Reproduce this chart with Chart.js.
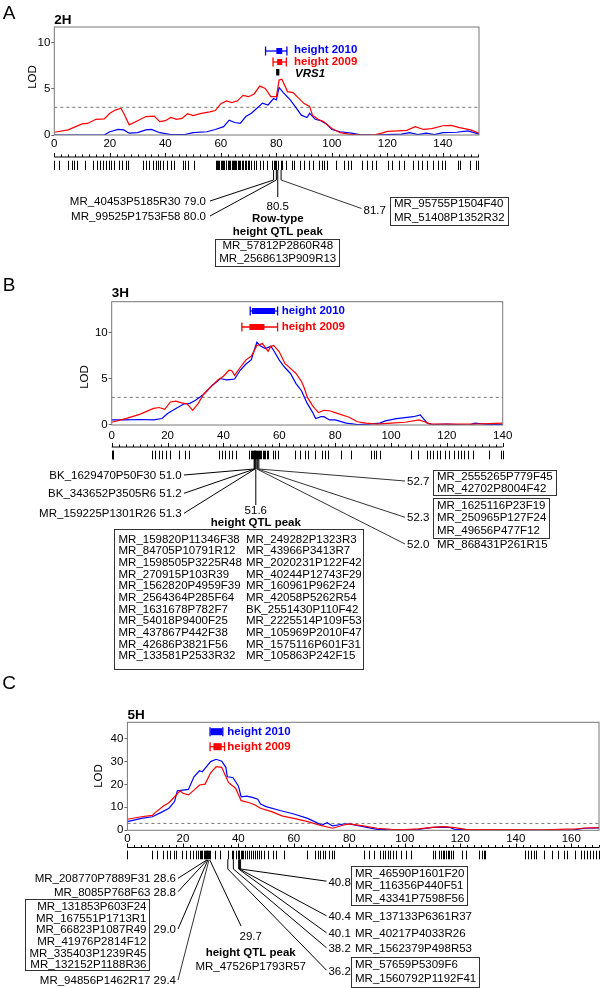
<!DOCTYPE html>
<html lang="en">
<head>
<meta charset="UTF-8">
<title>Plant height QTL on 2H, 3H and 5H</title>
<script src="https://cdn.jsdelivr.net/npm/chart.js"></script>
<style>
  body { margin: 0; background: #fff; }
  #fig { position: relative; width: 600px; height: 988px; background: #fff; }
  #fig canvas { position: absolute; left: 0; top: 0; }
</style>
</head>
<body>
<div id="fig">
  <canvas id="chartA" width="600" height="988"></canvas>
  <canvas id="chartB" width="600" height="988"></canvas>
  <canvas id="chartC" width="600" height="988"></canvas>
</div>
<script>
const FAM = '"Liberation Sans", Arial, Helvetica, sans-serif';
const BLUE = '#0000ff', RED = '#ff0000';
const THRESH = 3;

// ---------- 2H ----------
const A_X_MAX = 153, A_Y_MAX = 11.7;
const A_XTICKS = [0, 20, 40, 60, 80, 100, 120, 140];
const A_YTICKS = [0, 5, 10];
const A_POS_2009 = [0,5,10,12,15,18,20,22,24,25,27,30,33,36,38,40,42,44,46,48,50,53,56,58,60,62,64,66,68,70,72,74,76,78,80,81,82,84,86,88,90,92,93,95,97,100,103,106,110,115,118,120,124,127,130,133,136,140,143,146,150,153];
const A_LOD_2009 = [0.3,0.55,1.2,1.25,1.7,1.75,2.35,2.7,2.9,2.35,1.1,1.55,2.0,2.05,1.45,1.55,1.9,1.7,1.8,2.3,2.1,2.35,2.5,2.65,3.4,3.7,3.5,3.7,4.3,4.15,4.45,5.3,5.05,4.15,4.15,5.95,6.05,4.7,4.6,4.0,3.4,3.1,2.15,1.7,1.45,0.7,0.25,0.1,0,0,0.2,0.4,0.45,0.5,0.9,0.6,0.7,1.0,1.05,0.8,0.55,0.2];
const A_POS_2010 = [0,10,18,20,23,25,27,30,33,35,38,42,47,50,55,58,61,63,65,67,69,71,73,75,77,79,80,81,82.5,85,87,89,91,92,94,96,98,100,103,107,110,115,125,128,131,134,137,140,145,149,153];
const A_LOD_2010 = [0,0,0,0.35,0.6,0.55,0.2,0.25,0.55,0.6,0.25,0.05,0.05,0.25,0.35,0.6,0.9,1.6,1.35,1.25,2.0,2.35,2.9,3.45,3.25,3.95,3.8,5.15,4.6,3.8,3.0,2.15,1.9,2.35,1.7,1.55,1.2,0.6,0.35,0.2,0.05,0,0.1,0.25,0.05,0.2,0.05,0.25,0.3,0.45,0.1];
// intervals: outer low, inner low, inner high, outer high (cM)
const A_CI_2010 = [76.1, 80.0, 82.1, 83.8];
const A_CI_2009 = [78.8, 80.3, 82.1, 83.6];
const A_VRS1 = 80.5;
const A_MARKERS = [0,1.7,4.8,6.5,7.2,8.3,10.9,13.9,15.4,16.4,17.5,18.6,19.6,20.5,21.6,23.3,24.4,25.8,26.6,32,32.9,34,35.7,36.5,37.5,38.2,39.3,40.5,42,43,46.4,47.2,48.1,50.3,
  58.2,58.6,59,59.5,60,60.3,60.8,61.2,61.7,62,62.5,63,63.4,63.9,64.3,64.8,65.2,65.6,66,66.5,67,67.5,68,68.6,69.2,69.8,70.3,71,71.8,
  72.6,74,75.3,76.7,78.4,79.0,79.5,80.0,80.5,81.7,82.2,83.6,85.7,86.4,88.4,90.1,91.6,93.3,95.5,96.3,97.1,98.1,101.5,104.3,105.9,107,110.9,112.5,114.3,116,
  120.1,121.5,124.2,126,129.1,131.1,132.5,134.3,136.6,138.4,139.8,140.8,145.3,146.3,149.7,151.8,152.5];
const A_LEFT_CM = [79.0, 80.0];
const A_LEFT_NAMES = ['MR_40453P5185R30', 'MR_99525P1753F58'];
const A_PEAK_CM = 80.5;
const A_PEAK_NAMES = ['MR_57812P2860R48', 'MR_2568613P909R13'];
const A_RIGHT_CM = 81.7;
const A_RIGHT_NAMES = ['MR_95755P1504F40', 'MR_51408P1352R32'];

// ---------- 3H ----------
const B_X_MAX = 140, B_Y_MAX = 13.4;
const B_XTICKS = [0, 20, 40, 60, 80, 100, 120, 140];
const B_YTICKS = [0, 5, 10];
const B_POS_2009 = [0,5,10,15,17,19,21,23,25,27,29,31,33,36,38,40,42,43,44,46,48,50,52,54,56,57,58,60,62,64,66,68,69,70,72,74,76,78,80,85,88,91,95,100,105,110,112,114,120,130,140];
const B_LOD_2009 = [0.3,0.7,1.15,1.8,1.9,1.7,2.5,2.6,2.4,2.3,1.6,2.35,3.4,4.3,4.9,5.3,5.95,5.9,5.4,6.25,7.05,7.5,8.65,8.85,8.0,8.55,8.65,7.95,6.7,6.15,5.6,4.7,4.0,3.05,2.05,1.35,1.6,1.55,1.35,0.85,0.35,0.2,0.1,0.2,0.3,0.55,0.35,0.1,0.1,0.1,0.2];
const B_POS_2010 = [0,5,10,15,18,20,23,26,28,30,33,36,39,41,43,44,46,48,50,51,52,53,55,57,58,60,62,64,66,68,70,72,73,75,76,78,80,84,88,92,96,98,102,105,108,110.5,113,115,120,128,130,135,140];
const B_LOD_2010 = [0.55,0.55,0.6,0.55,0.7,1.25,1.8,2.3,2.35,2.7,3.35,4.3,5.05,4.9,4.95,5.0,5.95,6.6,7.1,8.1,9.0,8.65,8.3,8.55,8.1,7.05,6.25,5.6,4.5,3.7,2.35,1.35,0.7,0.9,0.9,0.55,0.55,0.2,0.05,0.1,0.2,0.45,0.7,0.8,0.9,1.1,0.2,0.05,0.1,0,0.2,0.05,0.05];
const B_CI_2010 = [49.6, 50.2, 58.5, 59.4];
const B_CI_2009 = [46.6, 49.3, 54.7, 59.4];
const B_MARKERS = [0,0.3,0.6,14.3,15.5,16.8,17.9,19.3,21,24.2,26.1,27.6,38.4,39.4,40.4,41.9,43.1,44.4,
  49.3,49.7,50.1,50.5,50.8,51.0,51.2,51.3,51.6,52.0,52.3,52.7,53.1,53.5,54,54.5,55,55.5,
  56.1,57.8,58.6,59.5,65.5,67.3,69.2,70.4,72.9,75.4,76.4,77.3,82.2,85.6,92.8,93.8,94.8,95.9,
  107.1,109.6,112.9,113.9,115.2,116.6,117.6,119.5,120.7,122.6,123.9,125.1,126.3,127.6,129.4,135,139.4,140];
const B_LEFT_CM = [51.0, 51.2, 51.3];
const B_LEFT_NAMES = ['BK_1629470P50F30', 'BK_343652P3505R6', 'MR_159225P1301R26'];
const B_PEAK_CM = 51.6;
const B_PEAK_COL1 = ['MR_159820P11346F38','MR_84705P10791R12','MR_1598505P3225R48','MR_270915P103R39','MR_1562820P4959F39','MR_2564364P285F64','MR_1631678P782F7','MR_54018P9400F25','MR_437867P442F38','MR_42686P3821F56','MR_133581P2533R32'];
const B_PEAK_COL2 = ['MR_249282P1323R3','MR_43966P3413R7','MR_2020231P122F42','MR_40244P12743F29','MR_160961P962F24','MR_42058P5262R54','BK_2551430P110F42','MR_2225514P109F53','MR_105969P2010F47','MR_1575116P601F31','MR_105863P242F15'];
const B_RIGHT_CM = [52.7, 52.3, 52.0];
const B_RIGHT_NAMES = [['MR_2555265P779F45','MR_42702P8004F42'], ['MR_1625116P23F19','MR_250965P127F24','MR_49656P477F12'], ['MR_868431P261R15']];

// ---------- 5H ----------
const C_X_MAX = 170, C_Y_MAX = 47;
const C_XTICKS = [0, 20, 40, 60, 80, 100, 120, 140, 160];
const C_YTICKS = [0, 10, 20, 30, 40];
const C_POS_2009 = [0,5,9,10,13,15,17,19,20,22,24,26,28,30,32,34,35.5,36.5,39,41,44,46,48,52,56,60,65,70,74,78,80,85,90,95,100,105,110,114,118,122,130,150,162,165,170];
const C_LOD_2009 = [4.8,5.9,6.5,7.7,10.6,12,14.6,17.2,16.1,15.4,17.5,19.7,20.1,25,27.7,27.4,23.3,20.7,18.3,12.9,12,11,9.6,8.1,6.2,5.2,3.8,2.0,0.9,2.3,2.75,1.9,0.9,0.4,0.3,0.6,1.3,1.6,1.15,0.4,0.3,0.15,0.6,1.0,1.15];
const C_POS_2010 = [0,5,9,12,15,17,18,20,22,24,26,27,28,30,32,34,35.5,36,38,40,41,43,45,47,48,50,55,60,65,70,72,74,78,80,85,90,95,100,105,110,113,116,118,125,140,160,165,170];
const C_LOD_2010 = [3.8,5.2,5.9,7.7,9.6,12.5,17.2,17.5,17.8,23.3,25.9,25.5,27,29.9,30.9,30.1,27.4,23.3,23,19.3,14.6,14.9,14.3,13.5,11.4,10.3,8.6,7.1,5.2,2.3,3.3,1.9,2.75,2.75,1.6,0.4,0.15,0.15,0.4,1.3,1.4,1.3,0.4,0.1,0.1,0.1,0.9,1.0];
const C_CI_2010 = [29.8, 30.0, 34.2, 34.4];
const C_CI_2009 = [29.8, 31.0, 34.0, 35.0];
const C_MARKERS = [0,9,10.7,12.7,14.1,15.5,16.9,17.6,19.6,21,22.4,23.8,24.8,25.4,26,26.5,27,27.5,27.9,28.2,28.6,28.8,29,29.4,29.7,31.4,33.5,36.2,37.6,38.2,39,
  40,40.1,40.4,40.8,41.3,41.8,42.5,43.2,44,44.6,45.3,46,46.8,47.5,48.3,49.4,50.8,52.4,53.5,56.3,64.6,67.6,68.7,69.4,70.4,71.2,72.6,73.6,74.5,
  85.3,87,88.8,90.9,92.3,92.9,93.9,94.7,95.7,96.7,98.5,100.6,102.2,110.2,110.9,112.3,113,113.6,114.2,114.8,115.4,116,116.6,117.2,120.6,122,
  126.8,127.9,128.5,129,143.4,144.5,145.5,146.5,147.3,150.3,153.1,155.2,157.3,158.6,161.4,163.5,164.5,165.6,166.9,168,169,170];
const C_LEFT_CM = [28.6, 28.8, 29.0, 29.4];
const C_LEFT_NAMES = [['MR_208770P7889F31'], ['MR_8085P768F63'],
  ['MR_131853P603F24','MR_167551P1713R1','MR_66823P1087R49','MR_41976P2814F12','MR_335403P1239R45','MR_132152P1188R36'],
  ['MR_94856P1462R17']];
const C_PEAK_CM = 29.7;
const C_PEAK_NAMES = ['MR_47526P1793R57'];
const C_RIGHT_CM = [40.8, 40.4, 40.1, 38.2, 36.2];
const C_RIGHT_NAMES = [['MR_46590P1601F20','MR_116356P440F51','MR_43341P7598F56'], ['MR_137133P6361R37'], ['MR_40217P4033R26'], ['MR_1562379P498R53'], ['MR_57659P5309F6','MR_1560792P1192F41']];

// ---------- drawing helpers ----------
function T(ctx, s, x, y, o = {}) {
  ctx.font = `${o.italic ? 'italic ' : ''}${o.bold ? 'bold ' : ''}${o.size || 11.5}px ${FAM}`;
  ctx.fillStyle = o.color || '#000';
  ctx.textAlign = o.align || 'left';
  ctx.textBaseline = 'middle';
  ctx.fillText(s, x, y);
}
function L(ctx, x1, y1, x2, y2) {
  ctx.beginPath(); ctx.moveTo(x1, y1); ctx.lineTo(x2, y2); ctx.stroke();
}
function rows(y0, n, dy) { return Array.from({ length: n }, (_, i) => y0 + i * dy); }

function box(ctx, lines, tx, ys, align, top, bottom) {
  ctx.font = `11.5px ${FAM}`;
  let w = 0;
  lines.forEach(s => { w = Math.max(w, ctx.measureText(s).width); });
  lines.forEach((s, i) => T(ctx, s, tx, ys[i], { align }));
  const left = align === 'right' ? tx - w - 4 : align === 'center' ? tx - w / 2 - 4 : tx - 4;
  ctx.strokeStyle = '#333'; ctx.lineWidth = 1;
  ctx.strokeRect(Math.round(left) + 0.5, Math.round(top) + 0.5, Math.round(w + 7), Math.round(bottom - top));
}

function common(ctx, a, letter, letterY, title, titleY, lodX, lodY) {
  ctx.strokeStyle = '#777'; ctx.lineWidth = 1;
  ctx.strokeRect(a.left, a.top, a.right - a.left, a.bottom - a.top);
  T(ctx, letter, 9, letterY, { size: 19, align: 'center' });
  T(ctx, title, a.left, titleY, { bold: true, size: 13.5 });
  ctx.save(); ctx.translate(lodX, lodY); ctx.rotate(-Math.PI / 2);
  T(ctx, 'LOD', 0, 0, { size: 11.5, align: 'center' });
  ctx.restore();
}

function interval(ctx, X, ci, y, col, th) {
  const [a, b, c, d] = ci.map(X);
  ctx.strokeStyle = col; ctx.fillStyle = col; ctx.lineWidth = 1.3;
  L(ctx, a, y, d, y);
  L(ctx, a, y - 4.5, a, y + 4.5);
  L(ctx, d, y - 4.5, d, y + 4.5);
  ctx.fillRect(b, y - th / 2, c - b, th);
}

function rug(ctx, X, marks, xMax, axisY, top, bottom) {
  ctx.strokeStyle = '#000'; ctx.lineWidth = 1;
  L(ctx, X(0), axisY + 0.5, X(xMax), axisY + 0.5);
  for (let v = 0; v <= xMax; v += 2.5) {
    const px = Math.round(X(v)) + 0.5;
    L(ctx, px, axisY + 0.5, px, axisY - (v % 20 === 0 ? 3.5 : 2));
  }
  marks.forEach(m => {
    const px = Math.round(X(m)) + 0.5;
    L(ctx, px, top, px, bottom);
  });
}

// ---------- panel decorations ----------
function drawA(ctx, X, a) {
  common(ctx, a, 'A', 13.5, '2H', 20, 33, 77);
  interval(ctx, X, A_CI_2010, 51, BLUE, 6);
  interval(ctx, X, A_CI_2009, 62, RED, 6);
  ctx.fillStyle = '#000';
  ctx.fillRect(X(A_VRS1) - 1.6, 69, 3.2, 6.5);
  T(ctx, 'height 2010', 294, 49.5, { bold: true, color: BLUE });
  T(ctx, 'height 2009', 294, 61.5, { bold: true, color: RED });
  T(ctx, 'VRS1', 295, 74, { bold: true, italic: true });

  rug(ctx, X, A_MARKERS, A_X_MAX, 156.5, 160.7, 170);
  const knee = 180;
  ctx.strokeStyle = '#000'; ctx.lineWidth = 1;
  [...A_LEFT_CM, A_RIGHT_CM].forEach(v => L(ctx, X(v), 170, X(v), knee));
  const leftY = [202, 217];
  A_LEFT_CM.forEach((v, i) => {
    L(ctx, X(v), knee, 210, leftY[i] - 1);
    T(ctx, A_LEFT_NAMES[i] + ' ' + v.toFixed(1), 206, leftY[i], { align: 'right' });
  });
  const pk = X(A_PEAK_CM);
  L(ctx, pk, 170, pk, 197);
  T(ctx, A_PEAK_CM.toFixed(1), pk, 206.5, { align: 'center' });
  T(ctx, 'Row-type', pk, 219, { bold: true, align: 'center' });
  T(ctx, 'height QTL peak', pk, 232, { bold: true, align: 'center' });
  box(ctx, A_PEAK_NAMES, pk, [246, 259], 'center', 239, 266);
  L(ctx, X(A_RIGHT_CM), knee, 361.5, 208.5);
  T(ctx, A_RIGHT_CM.toFixed(1), 363.5, 211);
  box(ctx, A_RIGHT_NAMES, 394, [204, 217.5], 'left', 196.5, 224);
}

function drawB(ctx, X, a) {
  common(ctx, a, 'B', 286, '3H', 293, 85, 377);
  interval(ctx, X, B_CI_2010, 311, BLUE, 6);
  interval(ctx, X, B_CI_2009, 327, RED, 6);
  T(ctx, 'height 2010', 281.7, 311, { bold: true, color: BLUE });
  T(ctx, 'height 2009', 281.7, 327, { bold: true, color: RED });

  rug(ctx, X, B_MARKERS, B_X_MAX, 446.5, 450.7, 459.3);
  const knee = 469;
  ctx.strokeStyle = '#000'; ctx.lineWidth = 1;
  [...B_LEFT_CM, ...B_RIGHT_CM].forEach(v => L(ctx, X(v), 459, X(v), knee));
  const leftY = [476, 494.3, 514.3];
  B_LEFT_CM.forEach((v, i) => {
    L(ctx, X(v), knee, 184, leftY[i] - 1);
    T(ctx, B_LEFT_NAMES[i] + ' ' + v.toFixed(1), 181.7, leftY[i], { align: 'right' });
  });
  const pk = X(B_PEAK_CM);
  L(ctx, pk, 459, pk, 505);
  T(ctx, B_PEAK_CM.toFixed(1), pk, 511, { align: 'center' });
  T(ctx, 'height QTL peak', pk, 522.5, { bold: true, align: 'center' });
  const ys = rows(539.5, B_PEAK_COL1.length, 11.67);
  B_PEAK_COL1.forEach((s, i) => T(ctx, s, 118.5, ys[i]));
  B_PEAK_COL2.forEach((s, i) => T(ctx, s, 246, ys[i]));
  ctx.strokeStyle = '#333';
  ctx.strokeRect(114.5, 529.5, 249, 140);

  const rightY = [482, 518.3, 545];
  B_RIGHT_CM.forEach((v, i) => {
    L(ctx, X(v), knee, 405, rightY[i] - 1);
    T(ctx, v.toFixed(1), 407, rightY[i]);
  });
  box(ctx, B_RIGHT_NAMES[0], 437, [476.5, 488.5], 'left', 470, 494.5);
  box(ctx, B_RIGHT_NAMES[1], 437, [506, 518.3, 530.5], 'left', 497.8, 537.5);
  T(ctx, B_RIGHT_NAMES[2][0], 437, 545);
}

function drawC(ctx, X, a) {
  common(ctx, a, 'C', 684, '5H', 715, 99, 776);
  interval(ctx, X, C_CI_2010, 731.7, BLUE, 7);
  interval(ctx, X, C_CI_2009, 746.7, RED, 7);
  T(ctx, 'height 2010', 227.3, 731.7, { bold: true, color: BLUE });
  T(ctx, 'height 2009', 227.3, 746.7, { bold: true, color: RED });

  rug(ctx, X, C_MARKERS, C_X_MAX, 847, 850.7, 859.3);
  ctx.strokeStyle = '#000'; ctx.lineWidth = 1;
  const kneeL = 860;
  const leftY = [879.3, 892.7, 930, 981];
  C_LEFT_CM.forEach((v, i) => {
    L(ctx, X(v), kneeL, 178, leftY[i] - 1);
    const names = C_LEFT_NAMES[i];
    if (names.length === 1) {
      T(ctx, names[0] + ' ' + v.toFixed(1), 176, leftY[i], { align: 'right' });
    } else {
      T(ctx, v.toFixed(1), 176, leftY[i], { align: 'right' });
      box(ctx, names, 146.5, rows(906.7, names.length, 11.67), 'right', 899.3, 970.5);
    }
  });
  const pk = X(C_PEAK_CM);
  ctx.strokeStyle = '#000';
  L(ctx, pk, kneeL, 241, 926);
  T(ctx, C_PEAK_CM.toFixed(1), 250.7, 936.7, { align: 'center' });
  T(ctx, 'height QTL peak', 250.7, 952.7, { bold: true, align: 'center' });
  T(ctx, C_PEAK_NAMES[0], 250.7, 966.7, { align: 'center' });

  const kneeR = 869;
  const rightY = [882.7, 917.3, 934.3, 949.3, 971.7];
  C_RIGHT_CM.forEach((v, i) => {
    ctx.strokeStyle = '#000';
    L(ctx, X(v), 859.3, X(v), kneeR);
    L(ctx, X(v), kneeR, 326.5, rightY[i] - 1.5);
    T(ctx, v.toFixed(1), 328.4, rightY[i]);
    const names = C_RIGHT_NAMES[i];
    if (names.length === 1) T(ctx, names[0], 355, rightY[i]);
  });
  box(ctx, C_RIGHT_NAMES[0], 355, [873.5, 886, 898.5], 'left', 865.7, 905);
  box(ctx, C_RIGHT_NAMES[4], 355, [965, 979], 'left', 956.7, 986.7);
}

// ---------- charts ----------
function lodSet(xs, ys, color) {
  return { data: xs.map((v, i) => ({ x: v, y: ys[i] })), borderColor: color, borderWidth: 1.2,
           pointRadius: 0, tension: 0, fill: false };
}

function panel(id, cfg) {
  const a = cfg.area;
  return new Chart(document.getElementById(id), {
    type: 'line',
    data: {
      datasets: [
        lodSet(cfg.pos09, cfg.lod09, RED),
        lodSet(cfg.pos10, cfg.lod10, BLUE),
        { data: [{ x: 0, y: THRESH }, { x: cfg.xMax, y: THRESH }], borderColor: '#777',
          borderWidth: 1, borderDash: [3, 3], pointRadius: 0 }
      ]
    },
    options: {
      responsive: false,
      animation: false,
      events: [],
      layout: { padding: { left: 0, top: a.t, right: 600 - a.r, bottom: 988 - a.b - 16 } },
      plugins: { legend: { display: false }, tooltip: { enabled: false } },
      scales: {
        x: {
          type: 'linear', min: 0, max: cfg.xMax,
          afterBuildTicks: s => { s.ticks = cfg.xTicks.map(v => ({ value: v })); },
          afterFit: s => { s.height = 16; },
          grid: { display: false, drawTicks: false },
          border: { display: false },
          ticks: { color: '#000', padding: cfg.xPad, maxRotation: 0, autoSkip: false, font: { size: 11.5 } }
        },
        y: {
          min: 0, max: cfg.yMax,
          afterBuildTicks: s => { s.ticks = cfg.yTicks.map(v => ({ value: v })); },
          afterFit: s => { s.width = a.l; },
          grid: { drawOnChartArea: false, drawTicks: true, tickLength: 3, color: '#666' },
          border: { display: false },
          ticks: { color: '#000', padding: 1, font: { size: 11.5 } }
        }
      }
    },
    plugins: [{
      id: 'deco',
      afterDraw: c => cfg.draw(c.ctx, v => c.scales.x.getPixelForValue(v), c.chartArea)
    }]
  });
}

Chart.defaults.font.family = FAM;

panel('chartA', {
  area: { l: 54.3, r: 479, t: 27, b: 135 }, xMax: A_X_MAX, yMax: A_Y_MAX,
  xTicks: A_XTICKS, yTicks: A_YTICKS, xPad: 2,
  pos09: A_POS_2009, lod09: A_LOD_2009, pos10: A_POS_2010, lod10: A_LOD_2010, draw: drawA
});
panel('chartB', {
  area: { l: 111.7, r: 502.7, t: 301.7, b: 425 }, xMax: B_X_MAX, yMax: B_Y_MAX,
  xTicks: B_XTICKS, yTicks: B_YTICKS, xPad: 4,
  pos09: B_POS_2009, lod09: B_LOD_2009, pos10: B_POS_2010, lod10: B_LOD_2010, draw: drawB
});
panel('chartC', {
  area: { l: 127.4, r: 599, t: 722.3, b: 830.3 }, xMax: C_X_MAX, yMax: C_Y_MAX,
  xTicks: C_XTICKS, yTicks: C_YTICKS, xPad: 2,
  pos09: C_POS_2009, lod09: C_LOD_2009, pos10: C_POS_2010, lod10: C_LOD_2010, draw: drawC
});
</script>
</body>
</html>
